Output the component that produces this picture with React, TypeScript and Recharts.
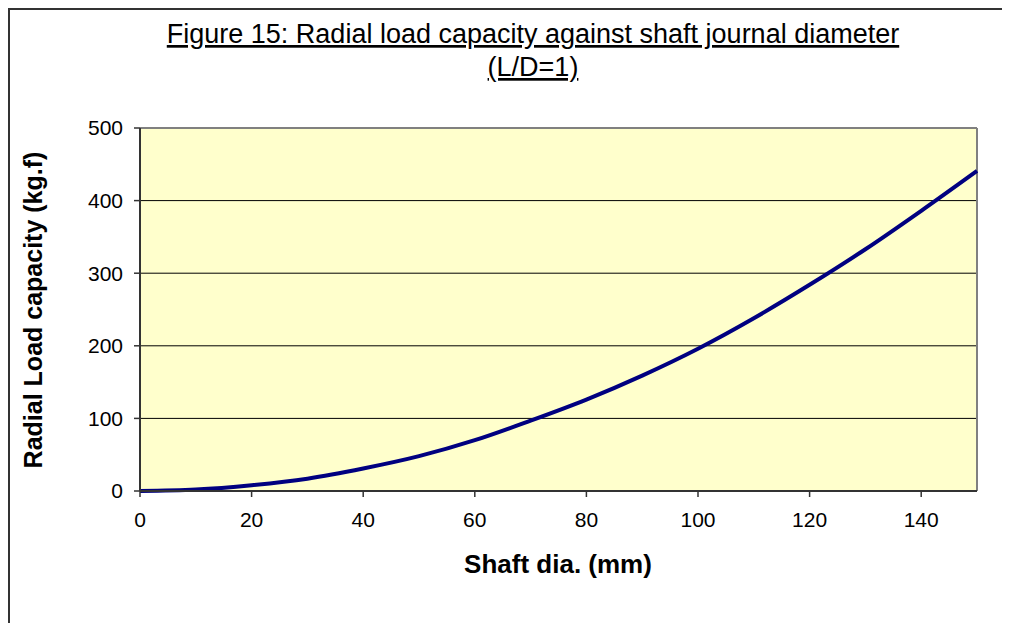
import React from "react";
import { LineChart, Line, XAxis, YAxis, CartesianGrid, ReferenceLine } from "recharts";

const shaftDia = [0, 10, 20, 30, 40, 50, 60, 70, 80, 90, 100, 110, 120, 130, 140, 150];
const loadCapacity = [0, 2, 8, 17, 31, 48, 70, 97, 126, 159, 196, 238, 284, 333, 386, 441];
const xTicks = [0, 20, 40, 60, 80, 100, 120, 140];
const yTicks = [0, 100, 200, 300, 400, 500];

const titleLine1 = "Figure 15: Radial load capacity against shaft journal diameter";
const titleLine2 = "(L/D=1)";
const xTitle = "Shaft dia. (mm)";
const yTitle = "Radial Load capacity (kg.f)";

const data = shaftDia.map((d, i) => ({ d, v: loadCapacity[i] }));

const FONT = "'Liberation Sans', Arial, sans-serif";

export default function App() {
  return (
    <div
      style={{
        position: "relative",
        width: 1002,
        height: 615,
        boxSizing: "border-box",
        borderTop: "2px solid #333",
        borderLeft: "2px solid #333",
        background: "#fff",
        fontFamily: FONT,
      }}
    >
      <div style={{ position: "absolute", left: 0, top: 0 }}>
        <LineChart
          width={1000}
          height={613}
          data={data}
          margin={{ top: 118, right: 33, bottom: 72, left: 0 }}
        >
          <CartesianGrid
            horizontal={true}
            vertical={false}
            stroke="#000"
            strokeWidth={1}
            fill="#FFFFCC"
            fillOpacity={1}
          />
          <XAxis
            dataKey="d"
            type="number"
            domain={[0, 150]}
            ticks={xTicks}
            height={60}
            tickSize={6}
            tickMargin={15}
            axisLine={{ stroke: "#333", strokeWidth: 2 }}
            tickLine={{ stroke: "#333", strokeWidth: 1.5 }}
            tick={{ fill: "#000", fontSize: 21, fontFamily: FONT }}
          />
          <YAxis
            type="number"
            domain={[0, 500]}
            ticks={yTicks}
            width={130}
            tickSize={6}
            tickMargin={11}
            axisLine={{ stroke: "#333", strokeWidth: 2 }}
            tickLine={{ stroke: "#333", strokeWidth: 1.5 }}
            tick={{ fill: "#000", fontSize: 21, fontFamily: FONT }}
          />
          <ReferenceLine y={500} stroke="#808080" strokeWidth={2} />
          <ReferenceLine x={150} stroke="#808080" strokeWidth={2} />
          <Line
            type="monotone"
            dataKey="v"
            stroke="#000080"
            strokeWidth={4}
            dot={false}
            isAnimationActive={false}
          />
        </LineChart>
      </div>
      <svg
        width={1000}
        height={613}
        style={{ position: "absolute", left: 0, top: 0, pointerEvents: "none" }}
      >
        <text x={523} y={33} textAnchor="middle" fontSize={27} fontFamily={FONT} fill="#000" textDecoration="underline">
          {titleLine1}
        </text>
        <text x={523} y={66} textAnchor="middle" fontSize={27} fontFamily={FONT} fill="#000" textDecoration="underline">
          {titleLine2}
        </text>
        <text x={548} y={563} textAnchor="middle" fontSize={26} fontWeight="bold" fontFamily={FONT} fill="#000">
          {xTitle}
        </text>
        <text
          x={0}
          y={0}
          transform={`translate(32, 300) rotate(-90)`}
          textAnchor="middle"
          fontSize={25}
          fontWeight="bold"
          fontFamily={FONT}
          fill="#000"
        >
          {yTitle}
        </text>
      </svg>
    </div>
  );
}
